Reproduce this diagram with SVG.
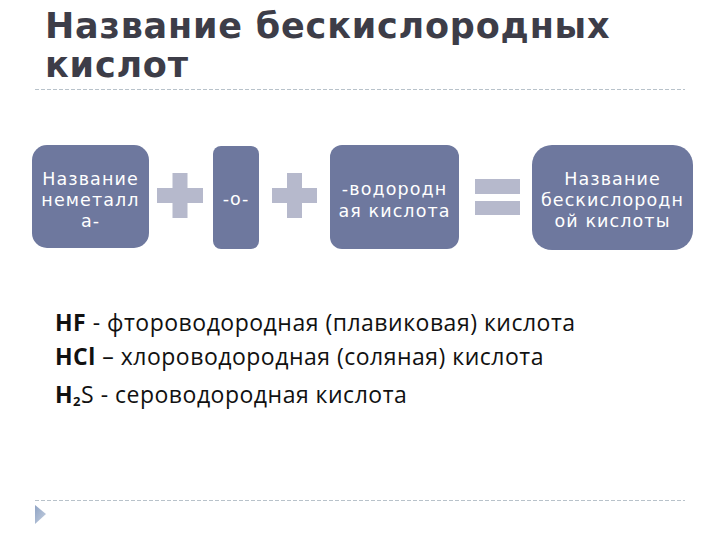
<svg xmlns="http://www.w3.org/2000/svg" width="720" height="540" viewBox="0 0 720 540">
<defs>
<style>
.title{font-family:"DejaVu Sans",sans-serif;font-weight:bold;font-size:35px;fill:#3d3d48;letter-spacing:0.8px}
.box{fill:#6e789e}
.bt{font-family:"DejaVu Sans",sans-serif;font-size:17.5px;fill:#ffffff;text-anchor:middle;letter-spacing:1.1px}
.op{fill:#b6b9cc}
.body{font-family:"Open Sans","Noto Sans",sans-serif;font-size:23px;fill:#111111;letter-spacing:0.5px}
.b{font-weight:bold}
.dash{stroke:#b8c2ca;stroke-width:1;stroke-dasharray:4 2;fill:none}
</style>
<linearGradient id="tri" x1="0" y1="0" x2="1" y2="1">
<stop offset="0" stop-color="#8fa3c4"/>
<stop offset="1" stop-color="#c5d0e0"/>
</linearGradient>
</defs>
<rect width="720" height="540" fill="#ffffff"/>
<g id="title">
<text class="title" x="45" y="38">Название бескислородных</text>
<text class="title" x="45" y="77">кислот</text>
</g>
<line class="dash" x1="35" y1="89.5" x2="685" y2="89.5"/>
<g id="node-nonmetal">
<rect class="box" x="32" y="145" width="117" height="103" rx="15"/>
<text class="bt" x="90.5" y="185">Название</text>
<text class="bt" x="90.5" y="206">неметалл</text>
<text class="bt" x="90.5" y="227">а-</text>
</g>
<g id="plus1" class="op">
<rect x="157" y="188" width="46" height="15"/>
<rect x="172.5" y="173" width="15" height="45"/>
</g>
<g id="node-o">
<rect class="box" x="213" y="146" width="46" height="103" rx="8"/>
<text class="bt" x="236" y="205">-о-</text>
</g>
<g id="plus2" class="op">
<rect x="272" y="188" width="45" height="15"/>
<rect x="287" y="173" width="15" height="45"/>
</g>
<g id="node-hydro">
<rect class="box" x="330" y="145" width="129" height="104" rx="12"/>
<text class="bt" x="394.5" y="195">-водородн</text>
<text class="bt" x="394.5" y="217">ая кислота</text>
</g>
<g id="equals" class="op">
<rect x="475" y="179" width="45" height="15"/>
<rect x="475" y="201" width="45" height="14"/>
</g>
<g id="node-result">
<rect class="box" x="532" y="145" width="161" height="105" rx="20"/>
<text class="bt" x="612.5" y="185">Название</text>
<text class="bt" x="612.5" y="206">бескислородн</text>
<text class="bt" x="612.5" y="227">ой кислоты</text>
</g>
<g id="connectors"></g>
<g id="examples">
<text class="body" x="55" y="331"><tspan class="b">HF</tspan> - фтороводородная (плавиковая) кислота</text>
<text class="body" x="55" y="365"><tspan class="b">HCl</tspan> – хлороводородная (соляная) кислота</text>
<text class="body" x="55" y="403"><tspan class="b">H</tspan><tspan class="b" font-size="13" dy="3">2</tspan><tspan dy="-3">S - сероводородная кислота</tspan></text>
</g>
<line class="dash" x1="35" y1="500.5" x2="685" y2="500.5"/>
<polygon points="35,505 46,514 35,524" fill="url(#tri)"/>
</svg>
